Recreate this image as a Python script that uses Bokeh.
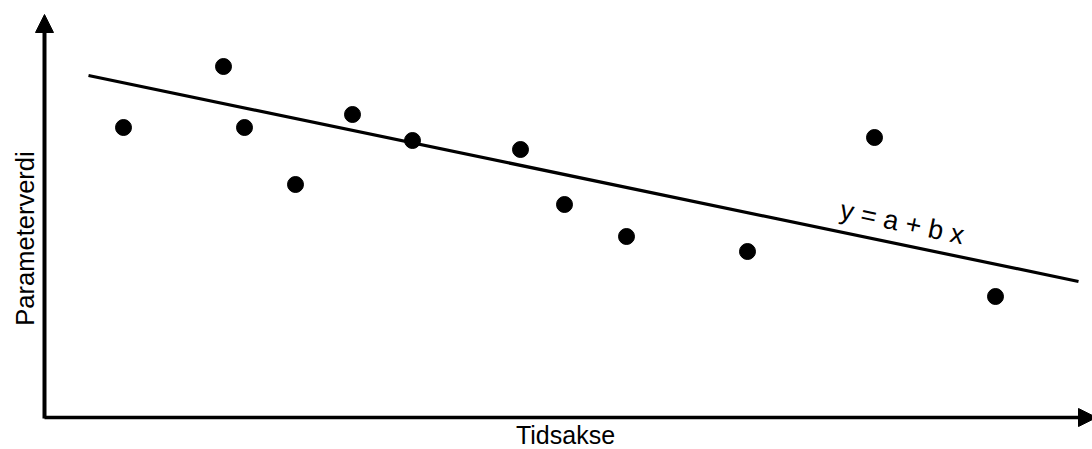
import math
from bokeh.plotting import figure
from bokeh.models import Range1d, Arrow, NormalHead, Label
from bokeh.embed import file_html
from bokeh.resources import INLINE

# ---- data (time in arbitrary units, parameter value in arbitrary units) ----
time = [7.9, 17.9, 20.0, 25.1, 30.8, 36.8, 47.6, 52.0, 58.2, 70.3, 83.0, 95.1]
param = [29.0, 35.1, 29.0, 23.3, 30.3, 27.7, 26.8, 21.3, 18.1, 16.6, 28.0, 12.1]

# regression line y = a + b x
a = 35.12
b = -0.2081
line_t = [4.4, 103.4]
line_v = [a + b * t for t in line_t]

x_title = "Tidsakse"
y_title = "Parameterverdi"
eq_text = "y = a + b x"

FONT = "Liberation Sans"

p = figure(width=1092, height=449, output_backend="svg", toolbar_location=None,
           x_range=Range1d(-4.4, 104.8), y_range=Range1d(-3.2, 41.7),
           x_axis_location=None, y_axis_location=None,
           min_border=0, min_border_left=0, min_border_right=0,
           min_border_top=0, min_border_bottom=0)
p.outline_line_color = None
p.grid.visible = False
p.background_fill_color = "white"
p.border_fill_color = "white"

# axes as arrows
p.add_layout(Arrow(end=NormalHead(size=18, fill_color="black", line_color="black"),
                   x_start=0, y_start=-0.1, x_end=0, y_end=40.3,
                   line_color="black", line_width=4))
p.add_layout(Arrow(end=NormalHead(size=18, fill_color="black", line_color="black"),
                   x_start=0, y_start=0, x_end=105.2, y_end=0,
                   line_color="black", line_width=3.5))

# regression line
p.line(line_t, line_v, line_color="black", line_width=3.2)

# data points
p.scatter(time, param, size=16, marker="circle", fill_color="black", line_color="black")

# equation label along the line
p.add_layout(Label(x=79.6, y=20.8, text=eq_text, angle=-math.atan(0.211),
                   text_font=FONT, text_font_size="27px", text_color="black",
                   text_align="left", text_baseline="alphabetic"))

# axis titles
p.add_layout(Label(x=52.1, y=-1.7, text=x_title, text_font=FONT,
                   text_font_size="25px", text_color="black",
                   text_align="center", text_baseline="alphabetic"))
p.add_layout(Label(x=-2.0, y=17.9, text=y_title, angle=math.pi / 2,
                   text_font=FONT, text_font_size="25.5px", text_color="black",
                   text_align="center", text_baseline="alphabetic"))

open("out.html", "w").write(file_html(p, INLINE))
